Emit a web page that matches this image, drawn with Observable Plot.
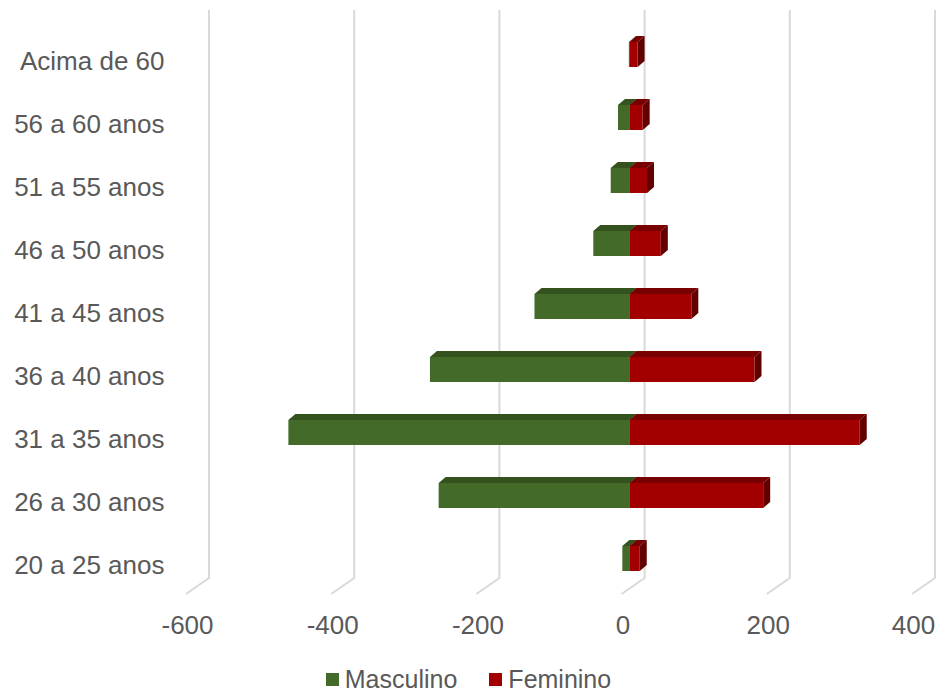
<!DOCTYPE html>
<html><head><meta charset="utf-8">
<script src="https://cdn.jsdelivr.net/npm/d3@7"></script>
<script src="https://cdn.jsdelivr.net/npm/@observablehq/plot@0.6"></script>
<style>
html,body{margin:0;background:#fff;font-family:"Liberation Sans",Arial,sans-serif;overflow:hidden;}
#chart svg{display:block;}
#legend{display:flex;justify-content:center;align-items:center;height:26px;line-height:26px;font-size:25px;color:#595959;}
#legend .item{display:flex;align-items:center;margin:0 16px;}
#legend .sw{width:13px;height:13px;margin-right:6px;display:inline-block;}
</style></head><body>
<div id="chart"></div>
<div id="legend"></div>
<script>
const categories = ["Acima de 60","56 a 60 anos","51 a 55 anos","46 a 50 anos","41 a 45 anos","36 a 40 anos","31 a 35 anos","26 a 30 anos","20 a 25 anos"];
const masculino = [1, 16, 26, 50, 131, 275, 470, 263, 10];
const feminino = [11, 18, 24, 43, 85, 172, 317, 184, 14];
const xTicks = [-600, -400, -200, 0, 200, 400];
const seriesNames = ["Masculino", "Feminino"];
const seriesColors = {
  Masculino: {front: "#436a28", top: "#33521d", side: "#2b4618"},
  Feminino: {front: "#a20000", top: "#780000", side: "#620000"}
};

const rows = categories.map((cat, i) => ({cat, m: masculino[i], f: feminino[i]}));

const FRONT_DX = -15, FRONT_DY = -4, DEPTH_X = 7, DEPTH_Y = -6;

function gridMark(index, scales, values, dims) {
  const g = d3.create("svg:g");
  const top = dims.marginTop - 17;
  const bottom = dims.height - dims.marginBottom - 16;
  for (const t of xTicks) {
    const x = scales.x(t);
    g.append("path")
      .attr("d", `M${x},${top}V${bottom}L${x - 23},${bottom + 16}`)
      .attr("fill", "none").attr("stroke", "#d9d9d9").attr("stroke-width", 2);
  }
  return g.node();
}

function extrudeMark(index, scales) {
  const g = d3.create("svg:g");
  const bw = scales.y.bandwidth();
  const seg = (x1, x2, cat, col) => {
    const a = scales.x(x1) + FRONT_DX, b = scales.x(x2) + FRONT_DX;
    const yt = scales.y(cat) + FRONT_DY, yb = yt + bw;
    g.append("path").attr("d", `M${a},${yt}L${b},${yt}L${b + DEPTH_X},${yt + DEPTH_Y}L${a + DEPTH_X},${yt + DEPTH_Y}Z`).attr("fill", col.top);
    g.append("path").attr("d", `M${b},${yt}L${b + DEPTH_X},${yt + DEPTH_Y}L${b + DEPTH_X},${yb + DEPTH_Y}L${b},${yb}Z`).attr("fill", col.side);
  };
  rows.forEach(r => {
    if (r.m > 0) seg(-r.m, 0, r.cat, seriesColors.Masculino);
    if (r.f > 0) seg(0, r.f, r.cat, seriesColors.Feminino);
  });
  return g.node();
}

const chart = Plot.plot({
  width: 937,
  height: 666,
  marginLeft: 209,
  marginRight: 2,
  marginTop: 27,
  marginBottom: 72,
  style: {fontSize: "26px", fontFamily: "'Liberation Sans', Arial, sans-serif", color: "#595959", background: "#fff"},
  x: {domain: [-600, 400], label: null},
  y: {domain: categories, paddingInner: 0.6, paddingOuter: 0.3, label: null},
  marks: [
    gridMark,
    extrudeMark,
    Plot.barX(rows, {x1: d => -d.m, x2: 0, y: "cat", fill: seriesColors.Masculino.front, dx: FRONT_DX, dy: FRONT_DY, inset: 0}),
    Plot.barX(rows, {x1: 0, x2: d => d.f, y: "cat", fill: seriesColors.Feminino.front, dx: FRONT_DX, dy: FRONT_DY, inset: 0}),
    Plot.axisX(xTicks, {tickSize: 0, tickPadding: 21, dx: -22, tickFormat: d => String(d), label: null}),
    Plot.axisY({tickSize: 0, tickPadding: 45, dy: 2.5, label: null})
  ]
});
document.getElementById("chart").appendChild(chart);

const legend = document.getElementById("legend");
for (const name of seriesNames) {
  const item = document.createElement("span");
  item.className = "item";
  const sw = document.createElement("span");
  sw.className = "sw";
  sw.style.background = seriesColors[name].front;
  item.appendChild(sw);
  item.appendChild(document.createTextNode(name));
  legend.appendChild(item);
}
</script>
</body></html>
